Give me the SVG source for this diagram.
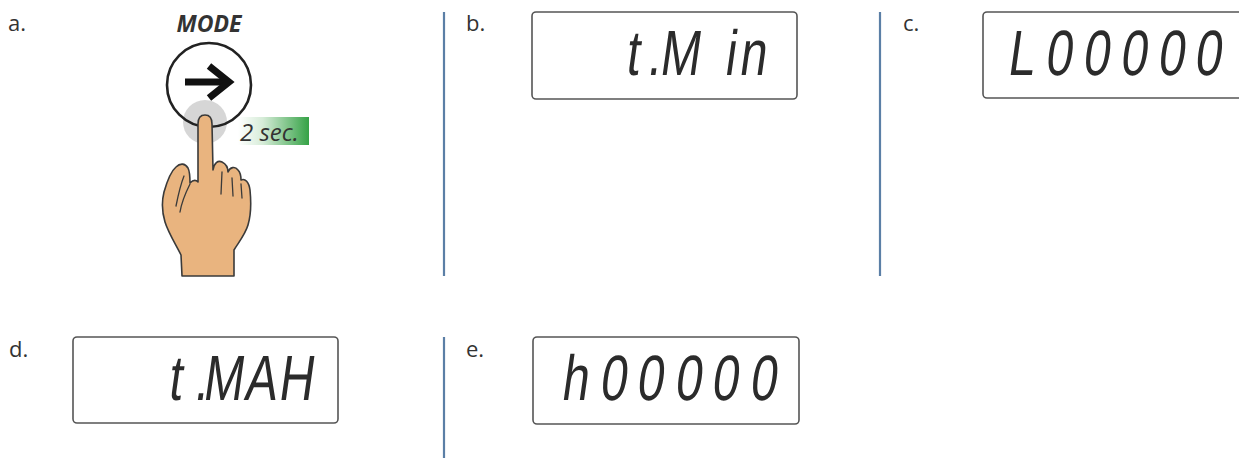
<svg xmlns="http://www.w3.org/2000/svg" width="1239" height="458" viewBox="0 0 1239 458">
  <style>
    .lbl { font-family: "Open Sans", "Liberation Sans", sans-serif; font-size: 22px; fill: #333; }
    .lcd { fill: #fff; stroke: #555; stroke-width: 1.6; }
    .seg { font-family: "Liberation Sans", "DejaVu Sans", sans-serif; font-size: 64px; fill: #2b2b2b; text-anchor: middle; }
    .div { stroke: #5b7fa6; stroke-width: 2.2; }
    .skin { fill: #e9b47f; stroke: #3a3a3a; stroke-width: 1.6; stroke-linejoin: round; }
    .crease { fill: none; stroke: #3a3a3a; stroke-width: 1.3; stroke-linecap: round; }
  </style>
  <defs>
    <linearGradient id="tagGrad" x1="0" y1="0" x2="1" y2="0">
      <stop offset="0" stop-color="#ffffff"/>
      <stop offset="0.35" stop-color="#d6ecd8"/>
      <stop offset="1" stop-color="#35a246"/>
    </linearGradient>
  </defs>
  <rect width="1239" height="458" fill="#fff"/>

  <!-- panel dividers -->
  <g id="dividers">
    <line class="div" x1="444" y1="12" x2="444" y2="276"/>
    <line class="div" x1="880" y1="12" x2="880" y2="276"/>
    <line class="div" x1="444" y1="337" x2="444" y2="458"/>
  </g>

  <!-- a: press MODE for 2 seconds -->
  <g id="step-a">
    <text class="lbl" x="8" y="31">a.</text>
    <text x="209" y="32" text-anchor="middle" font-family="'Open Sans', 'Liberation Sans', sans-serif" font-size="23" font-weight="bold" font-style="italic" fill="#333">MODE</text>
    <circle cx="205" cy="122" r="22" fill="#c4c4c4" opacity="0.7"/>
    <circle cx="209" cy="85" r="42" fill="none" stroke="#222" stroke-width="2.6"/>
    <path d="M185 82 H226" stroke="#111" stroke-width="7" fill="none"/>
    <path d="M209 66 L229 82 L209 98" stroke="#111" stroke-width="7" fill="none" stroke-linejoin="miter"/>
    <rect x="238" y="117" width="71" height="28" fill="url(#tagGrad)"/>
    <text x="240" y="141" font-family="'Open Sans', 'Liberation Sans', sans-serif" font-size="24" font-style="italic" fill="#333">2 sec.</text>
    <path class="skin" d="M198,182 L198,124 C198,118 201,115 205,115 C209,115 212,118 212,124 L213,170 C214,163 218,160 222,162 C226,164 228,168 228,172 C230,167 235,166 238,170 C241,173 241,177 241,180 C245,178 249,182 250,190 C251,200 251,215 248,225 C245,235 238,243 234,250 L234,276 L182,276 L181,255 C176,245 168,232 165,222 C162,212 162,200 164,192 C166,185 170,172 176,167 C180,163 185,163 188,168 C190,172 190,178 190,183 C193,180 196,180 198,182 Z"/>
    <path class="crease" d="M222,172 L221,194 M232,178 L233,196 M241,184 L242,198 M190,184 C186,192 182,200 180,212 M184,176 C180,186 178,196 176,206"/>
  </g>

  <!-- b: t.Min -->
  <g id="step-b">
    <text class="lbl" x="466" y="31">b.</text>
    <rect class="lcd" x="532" y="12" width="265" height="87" rx="4"/>
    <text class="seg" transform="translate(0,75) skewX(-8) scale(0.75,1)" x="842 871 905 972 1002" y="0">t.Min</text>
  </g>

  <!-- c: L00000 -->
  <g id="step-c">
    <text class="lbl" x="903" y="31">c.</text>
    <rect class="lcd" x="983" y="12" width="270" height="86" rx="4"/>
    <text class="seg" transform="translate(0,75) skewX(-8) scale(0.75,1)" x="1360 1410 1460 1510 1560 1609" y="0">L00000</text>
  </g>

  <!-- d: t.MAH -->
  <g id="step-d">
    <text class="lbl" x="9" y="357">d.</text>
    <rect class="lcd" x="73" y="337" width="265" height="86" rx="4"/>
    <text class="seg" transform="translate(0,400) skewX(-8) scale(0.75,1)" x="232 267 296 346 393" y="0">t.MAH</text>
  </g>

  <!-- e: h00000 -->
  <g id="step-e">
    <text class="lbl" x="466" y="357">e.</text>
    <rect class="lcd" x="533" y="337" width="266" height="87" rx="4"/>
    <text class="seg" transform="translate(0,400) skewX(-8) scale(0.75,1)" x="765 816 865 916 965 1016" y="0">h00000</text>
  </g>
</svg>
